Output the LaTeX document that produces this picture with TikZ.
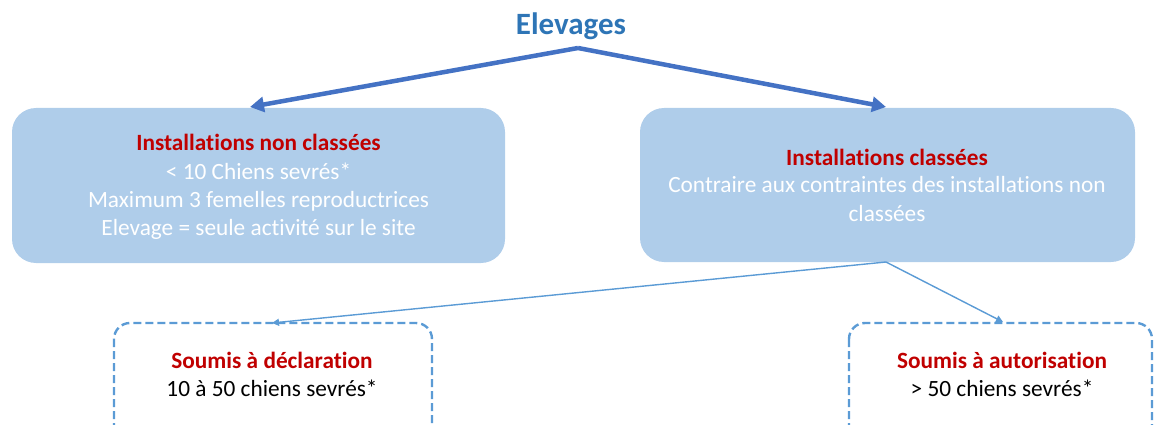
\documentclass[tikz,border=0pt]{standalone}
\usepackage{fontspec}
\setmainfont{Carlito}[Ligatures={NoCommon}]
\usetikzlibrary{arrows.meta}
\definecolor{titleblue}{RGB}{46,117,182}
\definecolor{boxfill}{RGB}{175,205,234}
\definecolor{bigarrow}{RGB}{68,114,196}
\definecolor{thinblue}{RGB}{91,155,213}
\definecolor{darkred}{RGB}{192,0,0}
\tikzset{
  bigbox/.style={fill=boxfill, draw=none, rounded corners=24pt},
  dashbox/.style={draw=thinblue, line width=2.4pt, dash pattern=on 8pt off 4pt, rounded corners=16pt},
  bigarr/.style={draw=bigarrow, line width=4.5pt, -{Triangle[length=14pt,width=15pt]}},
  thinarr/.style={draw=thinblue, line width=1.4pt, -{Triangle[length=7pt,width=7pt]}},
  txt/.style={font=\fontsize{23.3}{27}\selectfont, inner sep=0pt, anchor=base},
  head/.style={txt, font=\fontsize{23.3}{27}\selectfont\bfseries, text=darkred},
}
\begin{document}
\begin{tikzpicture}[x=1pt,y=-1pt]
\useasboundingbox (0,0) rectangle (1154,425);
\clip (0,0) rectangle (1154,425);
% title
\node[font=\fontsize{31}{35}\selectfont\bfseries, text=titleblue, inner sep=0pt, anchor=base] (title) at (571,34.5) {Elevages};
\coordinate (apex) at (578,48);
% boxes
\path[bigbox] (12,108) rectangle (505,263);
\path[bigbox] (640,108) rectangle (1135,262);
\coordinate (lefttop) at (250,107);
\coordinate (righttop) at (886,107);
\coordinate (rightbot) at (886,262);
\draw[bigarr] (apex) -- (lefttop);
\draw[bigarr] (apex) -- (righttop);
% left box text
\node[head] (l1) at (258.5,150.5) {Installations non classées};
\node[txt, text=white] (l2) at (258.5,179) {< 10 Chiens sevrés*};
\node[txt, text=white] (l3) at (258.5,207) {Maximum 3 femelles reproductrices};
\node[txt, text=white] (l4) at (258.5,235) {Elevage = seule activité sur le site};
% right box text
\node[head] (r1) at (887,165) {Installations classées};
\node[txt, text=white] (r2) at (887,193) {Contraire aux contraintes des installations non};
\node[txt, text=white] (r3) at (887,221) {classées};
% dashed boxes
\draw[dashbox] (114,323) rectangle (432,445);
\draw[dashbox] (849,323) rectangle (1152,445);
\coordinate (dl) at (272,323);
\coordinate (dr) at (1003,322);
\draw[thinarr] (rightbot) -- (dl);
\draw[thinarr] (rightbot) -- (dr);
\node[head] (d1) at (272,368) {Soumis à déclaration};
\node[txt] (d2) at (272,396) {10 à 50 chiens sevrés*};
\node[head] (a1) at (1002,368) {Soumis à autorisation};
\node[txt] (a2) at (1002,396) {> 50 chiens sevrés*};
\end{tikzpicture}
\end{document}
